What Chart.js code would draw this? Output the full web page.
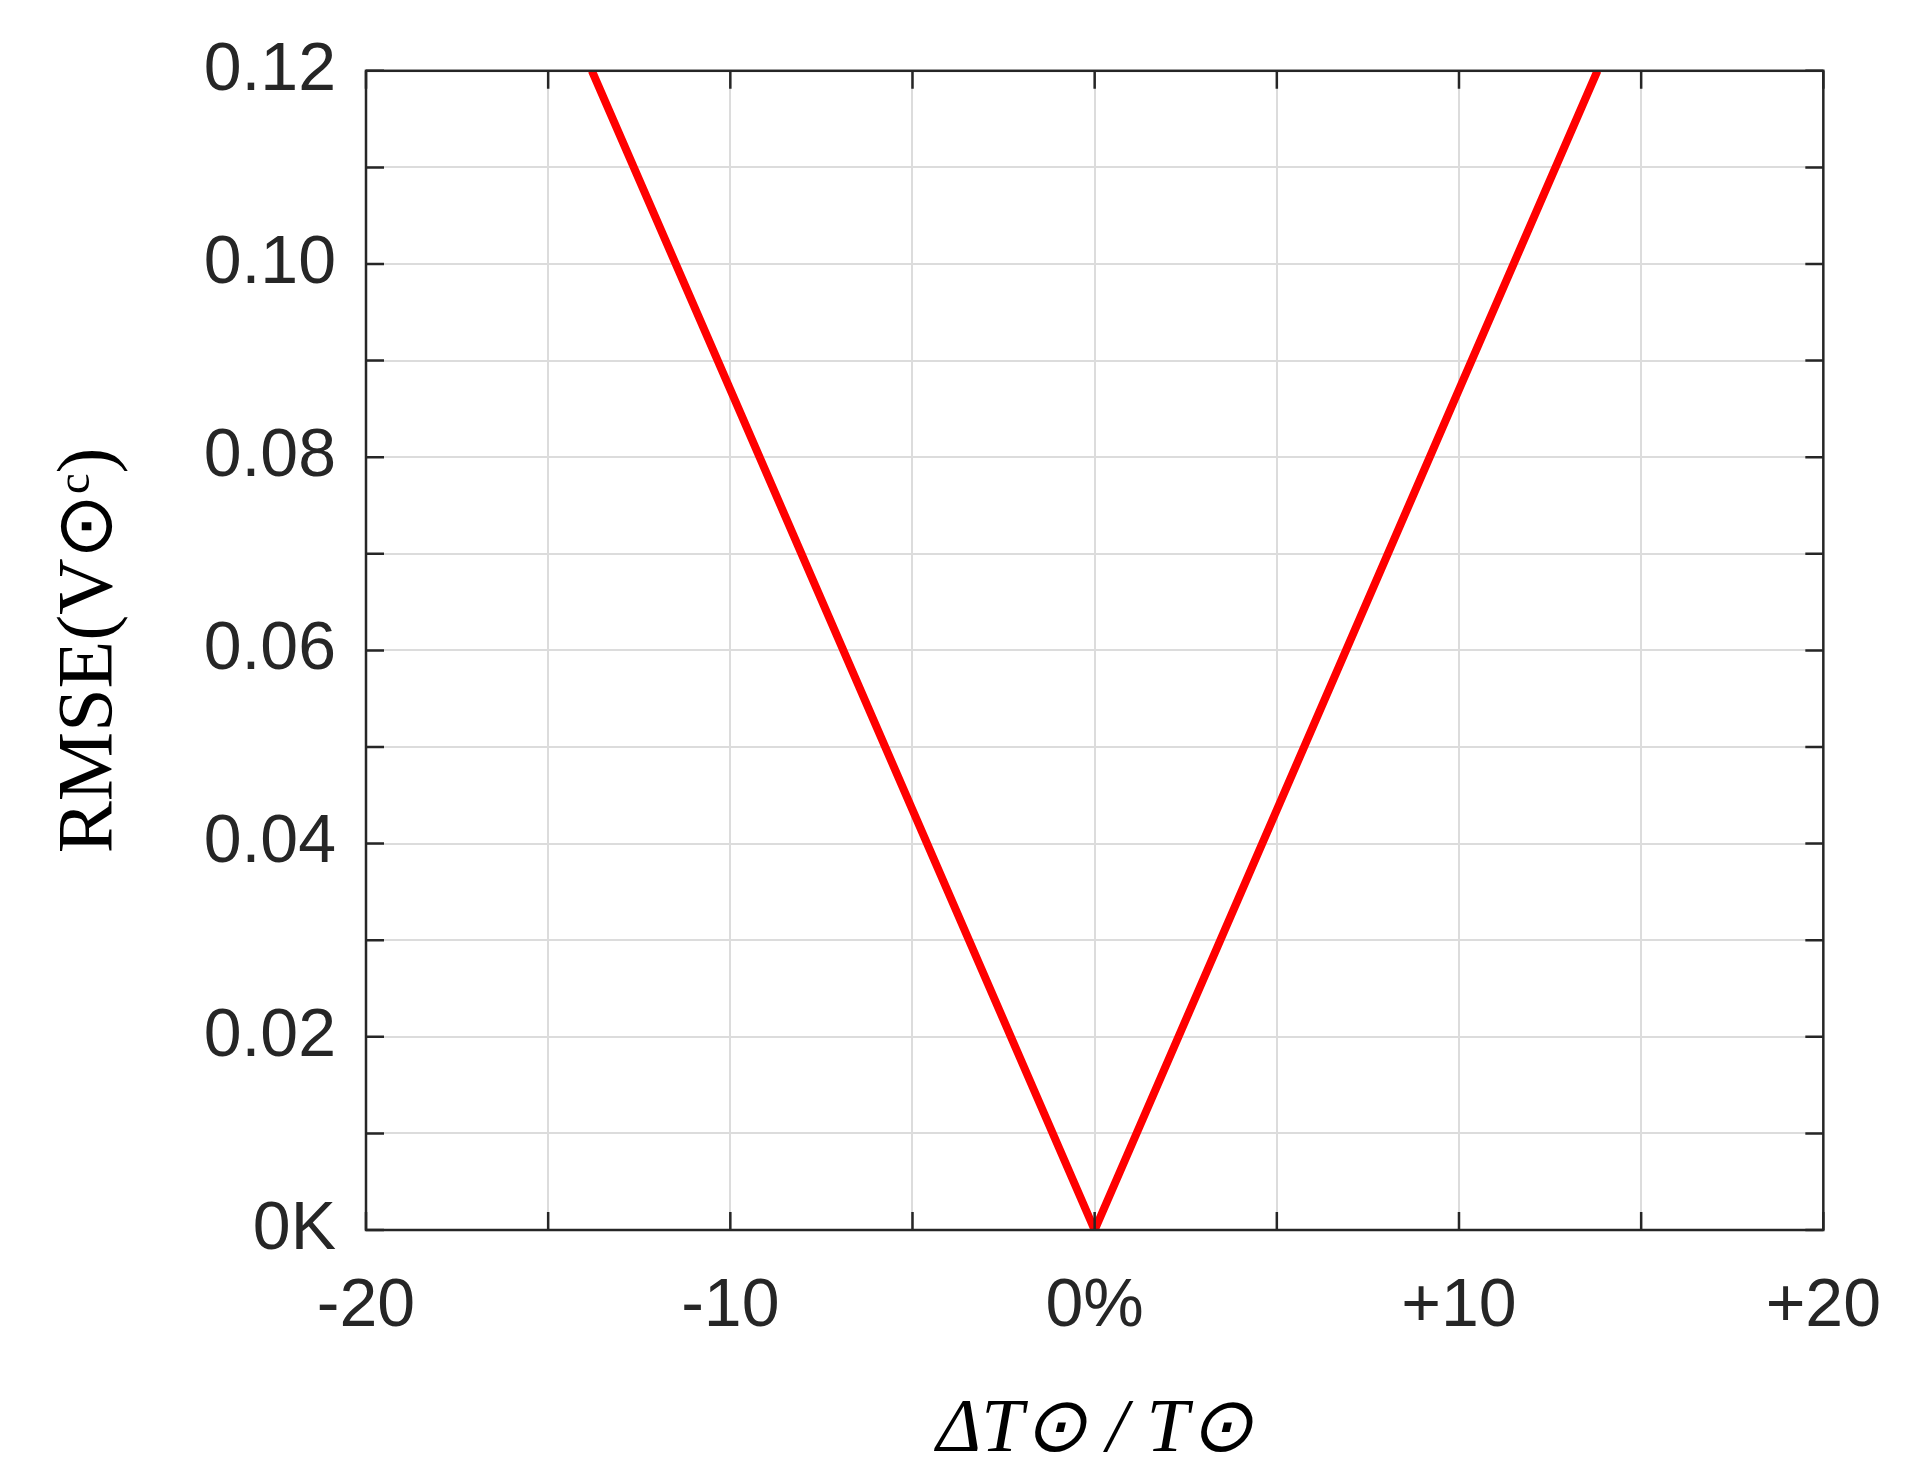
<!DOCTYPE html>
<html><head><meta charset="utf-8">
<script src="https://cdn.jsdelivr.net/npm/chart.js@4"></script>
<style>html,body{margin:0;padding:0;background:#fff}#w{width:1917px;height:1481px}</style>
</head><body><div id="w"><canvas id="c"></canvas></div>
<script>
const xValues = [-13.8, -10, -5, 0, 5, 10, 13.8];
const rmseValues = [0.12, 0.087, 0.0435, 0, 0.0435, 0.087, 0.12];
const xTickLabels = {"-20":"-20","-10":"-10","0":"0%","10":"+10","20":"+20"};
const yTickLabels = {"0":"0K","0.02":"0.02","0.04":"0.04","0.06":"0.06","0.08":"0.08","0.1":"0.10","0.12":"0.12"};

const frame = {
  id:'frame',
  afterDraw(ch){
    const {ctx, chartArea:a, scales:{x,y}} = ch;
    ctx.save();
    ctx.strokeStyle='#262626'; ctx.lineWidth=2.5;
    ctx.strokeRect(a.left,a.top,a.right-a.left,a.bottom-a.top);
    const L=18;
    ctx.beginPath();
    for(let v=-20; v<=20; v+=5){const p=x.getPixelForValue(v);
      ctx.moveTo(p,a.bottom);ctx.lineTo(p,a.bottom-L);ctx.moveTo(p,a.top);ctx.lineTo(p,a.top+L);}
    for(let i=0;i<=12;i++){const p=y.getPixelForValue(i/100);
      ctx.moveTo(a.left,p);ctx.lineTo(a.left+L,p);ctx.moveTo(a.right,p);ctx.lineTo(a.right-L,p);}
    ctx.stroke();
    ctx.restore();
  }
};

new Chart(document.getElementById('c'),{
  type:'line',
  data:{datasets:[{data:xValues.map((v,i)=>({x:v,y:rmseValues[i]})),borderColor:'#ff0000',borderWidth:8,pointRadius:0,tension:0}]},
  options:{
    responsive:true,maintainAspectRatio:false,animation:false,
    layout:{padding:{top:67,right:42,left:40,bottom:0}},
    plugins:{legend:{display:false},tooltip:{enabled:false}},
    scales:{
      x:{type:'linear',min:-20,max:20,
        afterBuildTicks(s){s.ticks=[];for(let v=-20;v<=20;v+=5)s.ticks.push({value:v});},
        afterFit(s){s.height=251;},
        grid:{color:'#dcdcdc',lineWidth:2,drawTicks:false},border:{display:false},
        ticks:{padding:36,maxRotation:0,autoSkip:false,color:'#262626',font:{family:'Liberation Sans',size:68},
          callback:v=>xTickLabels[String(v)]??''},
        title:{display:true,text:'ΔT⊙ / T⊙',color:'#000',font:{family:'Liberation Serif',size:76,style:'italic'},padding:{top:14}}
      },
      y:{type:'linear',min:0,max:0.12,
        afterBuildTicks(s){s.ticks=[];for(let i=0;i<=12;i++)s.ticks.push({value:i/100});},
        afterFit(s){s.width=326;},
        grid:{color:'#dcdcdc',lineWidth:2,drawTicks:false},border:{display:false},
        ticks:{padding:30,autoSkip:false,color:'#262626',font:{family:'Liberation Sans',size:68},
          callback:v=>yTickLabels[String(Math.round(v*100)/100)]??''},
        title:{display:true,text:'RMSE(V⊙ᶜ)',color:'#000',font:{family:'Liberation Serif',size:78},padding:{bottom:10}}
      }
    }
  },
  plugins:[frame]
});
</script></body></html>
